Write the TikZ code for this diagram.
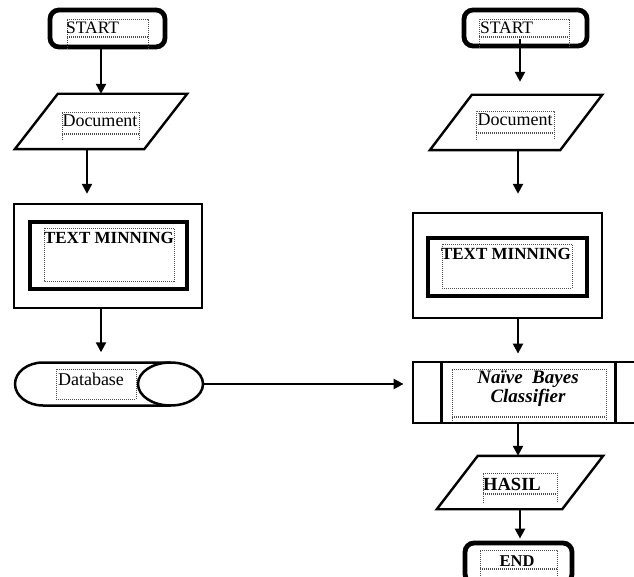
\documentclass[tikz,border=0pt]{standalone}
\usepackage{fontspec}
\setmainfont{Liberation Serif}
\usetikzlibrary{arrows.meta,calc}
\newcommand\txtbox[5]{%
  \draw[tb] (#1,#5) -- (#1,#2) -- (#3,#2) -- (#3,#5);
  \draw[tb] (#1,#4) -- (#3,#4);
  \draw[tb] (#1,#4+1.5) -- (#3,#4+1.5);}
\newcommand\fullbox[4]{\draw[tb] (#1,#2) rectangle (#3,#4);}
\begin{document}
\begin{tikzpicture}[x=1pt,y=-1pt,
  term/.style={draw, line width=4.8pt, rounded corners=9pt, inner sep=0},
  hold/.style={inner sep=0, draw=none},
  para/.style={line width=2.4pt, line join=miter},
  arr/.style={line width=2.3pt, -{Triangle[width=10pt,length=10pt]}},
  tb/.style={line width=0.7pt, gray!60!black, dash pattern=on 1pt off 1pt},
  lbl/.style={inner sep=0, font=\fontsize{18}{20}\selectfont}]
\clip (0,0) rectangle (634,577);
\fill[white] (0,0) rectangle (634,577);

% ---------- left column ----------
\node[term, minimum width=115pt, minimum height=37pt] (s1) at (107.5,28.5) {};
\node[hold, minimum width=172pt, minimum height=55pt] (d1) at (101,121.5) {};
\draw[para] ([xshift=43pt]d1.north west) -- (d1.north east) -- ([xshift=-43pt]d1.south east) -- (d1.south west) -- cycle;
\node[draw, line width=2.4pt, minimum width=188pt, minimum height=104pt] (t1) at (108,256) {};
\node[draw, line width=4pt, minimum width=157pt, minimum height=67pt] (t1i) at (108.5,255.5) {};
\node[hold, minimum width=188pt, minimum height=43pt] (db) at (109,384) {};
\draw[line width=2.5pt] (170.5,362.5) -- (43,362.5) arc[start angle=90, end angle=270, x radius=28pt, y radius=21.5pt] -- (170.5,405.5);
\draw[line width=2.5pt] (170.5,384) ellipse [x radius=32.5pt, y radius=21.5pt];

% ---------- right column ----------
\node[term, minimum width=123pt, minimum height=36pt] (s2) at (525.5,28) {};
\node[hold, minimum width=172pt, minimum height=55pt] (d2) at (516,122.5) {};
\draw[para] ([xshift=42pt]d2.north west) -- (d2.north east) -- ([xshift=-42pt]d2.south east) -- (d2.south west) -- cycle;
\node[draw, line width=2.4pt, minimum width=189pt, minimum height=105pt] (t2) at (507.5,265.5) {};
\node[draw, line width=4pt, minimum width=159pt, minimum height=58pt] (t2i) at (507.5,267) {};
\node[draw, line width=2.8pt, minimum width=240pt, minimum height=61pt, inner sep=0] (nb) at (533,392.5) {};
\draw[line width=2.8pt] ([xshift=29.5pt]nb.north west) -- ([xshift=29.5pt]nb.south west);
\draw[line width=2.8pt] ([xshift=204pt]nb.north west) -- ([xshift=204pt]nb.south west);
\node[hold, minimum width=166pt, minimum height=53pt] (h2) at (520,482.5) {};
\draw[para] ([xshift=41pt]h2.north west) -- (h2.north east) -- ([xshift=-41pt]h2.south east) -- (h2.south west) -- cycle;
\node[term, minimum width=107pt, minimum height=40pt] (e2) at (518.5,563) {};

% ---------- dotted text boxes ----------
\txtbox{67}{19}{148}{36}{49}
\txtbox{479}{19}{569}{36}{48}
\txtbox{62}{112}{139}{133}{140}
\txtbox{476}{111}{554}{132}{140}
\fullbox{44}{228}{174}{281}
\fullbox{442}{244}{572}{288}
\fullbox{56}{369}{136}{399}
\txtbox{452}{369}{606}{416}{421}
\txtbox{483}{473}{557}{493}{503}
\txtbox{480}{550}{557}{568}{580}

% ---------- texts ----------
\node[lbl, anchor=west, font=\fontsize{17.5}{19}\selectfont] (s1t) at (66,28) {START};
\node[lbl, anchor=west, font=\fontsize{17.5}{19}\selectfont] (s2t) at (480,28) {START};
\node[lbl] (d1t) at (100,121) {Document};
\node[lbl] (d2t) at (515,120) {Document};
\node[lbl, font=\fontsize{17}{19}\selectfont\bfseries] (t1t) at (109,238) {TEXT MINNING};
\node[lbl, font=\fontsize{17}{19}\selectfont\bfseries] (t2t) at (506,254) {TEXT MINNING};
\node[lbl] (dbt) at (91,379) {Database};
\node[lbl, align=center, font=\fontsize{19}{19}\selectfont\bfseries\itshape] (nbt) at (528,389) {Naïve\ \ Bayes\\Classifier};
\node[lbl, font=\fontsize{18.5}{20}\selectfont\bfseries] (h2t) at (512,484) {HASIL};
\node[lbl, font=\fontsize{16.5}{18}\selectfont\bfseries] (e2t) at (517,561) {END};

% ---------- connectors ----------
\draw[arr] ([xshift=-6.5pt]s1.south) -- ([xshift=-6.5pt]s1.south |- d1.north);
\draw[arr, shorten >=9pt] ([xshift=-14pt]d1.south) -- ([xshift=-14pt]d1.south |- t1.north);
\draw[arr, shorten >=10pt] ([xshift=-7pt]t1.south) -- ([xshift=-7pt]t1.south |- db.north);
\draw[arr, shorten >=8pt] (db.east) -- (db.east -| nb.west);
\draw[arr, shorten <=-9pt, shorten >=13pt] ([xshift=-5.5pt]s2.south) -- ([xshift=-5.5pt]s2.south |- d2.north);
\draw[arr, shorten >=18pt] ([xshift=2pt]d2.south) -- ([xshift=2pt]d2.south |- t2.north);
\draw[arr, shorten >=7pt] ([xshift=10.5pt]t2.south) -- ([xshift=10.5pt]t2.south |- nb.north);
\draw[arr] ([xshift=-15pt]nb.south) -- ([xshift=-15pt]nb.south |- h2.north);
\draw[arr, shorten >=2pt] (h2.south) -- (h2.south |- e2.north);
\end{tikzpicture}
\end{document}
